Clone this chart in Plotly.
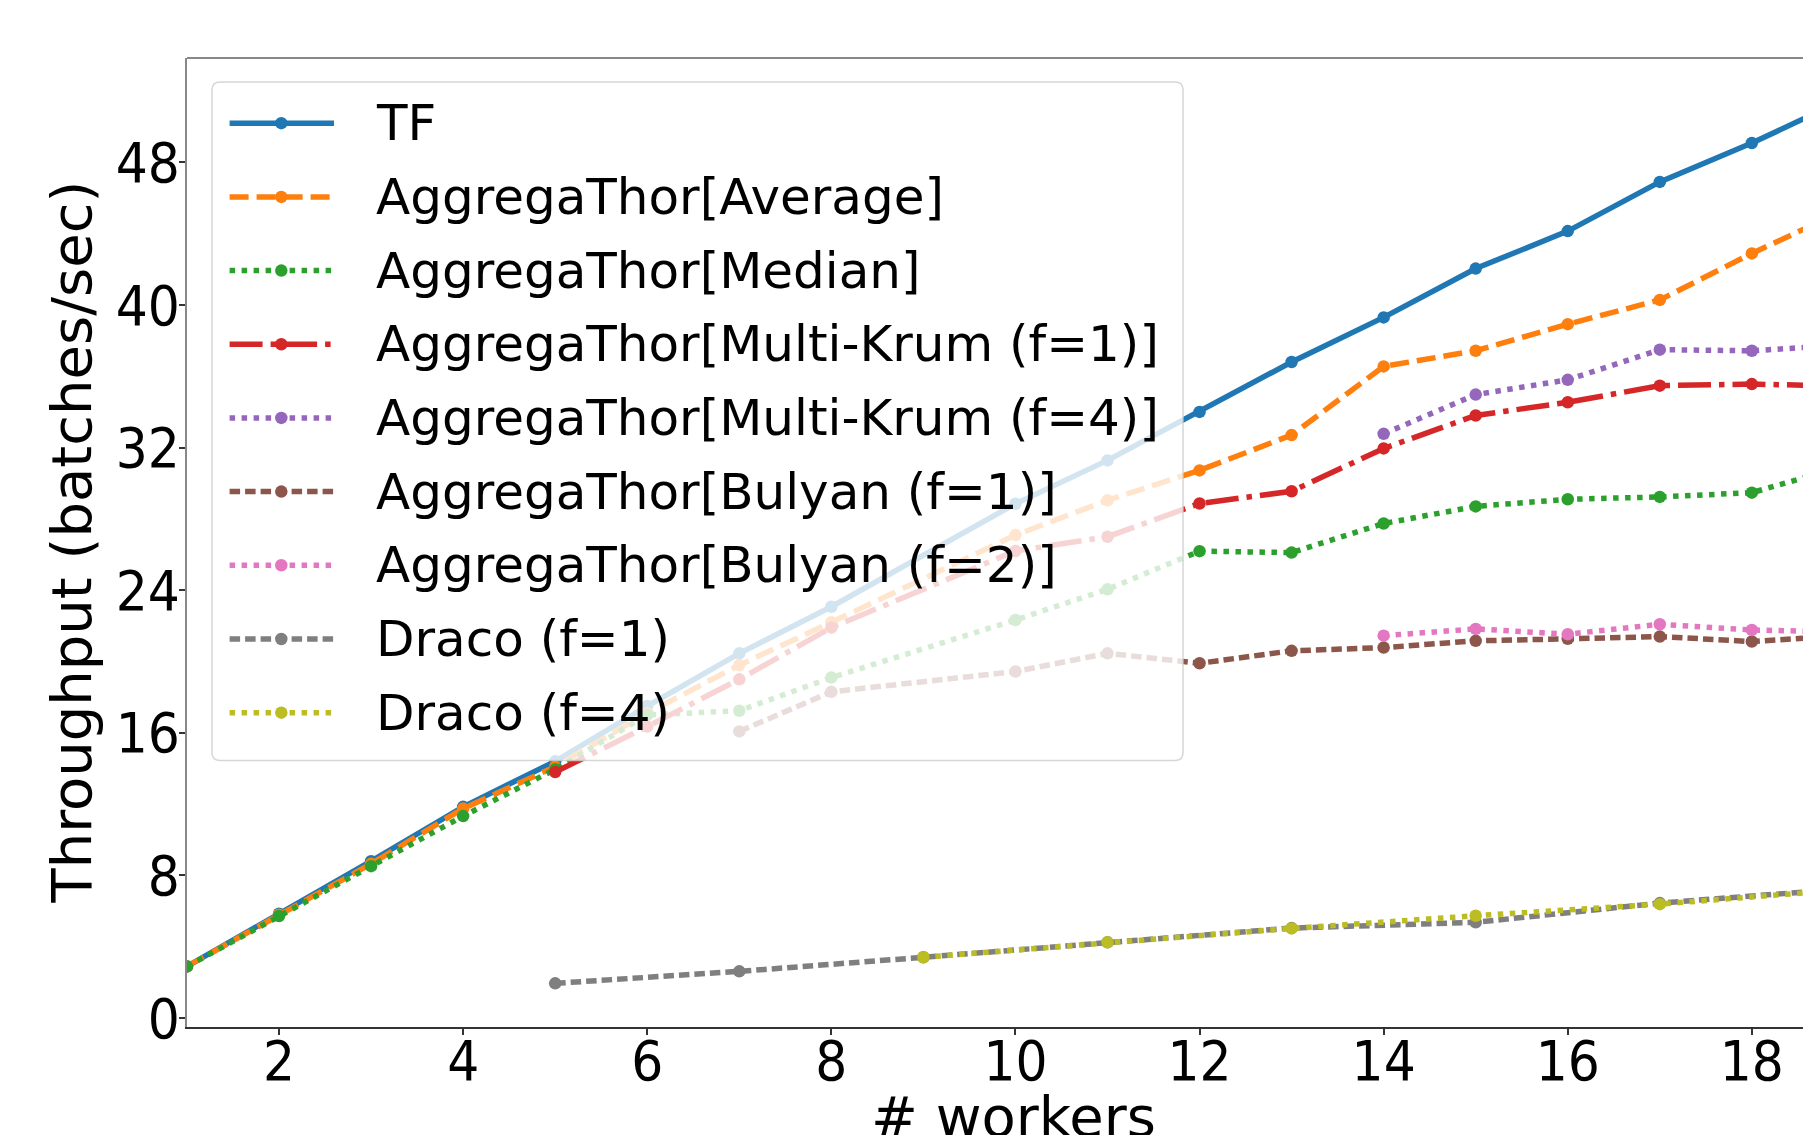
import plotly.graph_objects as go

# ---------------- data ----------------
workers_tf = [1, 2, 3, 4, 5, 6, 7, 8, 10, 11, 12, 13, 14, 15, 16, 17, 18, 19]
tput_tf = [2.9, 5.85, 8.8, 11.85, 14.4, 17.5, 20.46, 23.07, 28.85, 31.28, 34.0, 36.8,
           39.3, 42.04, 44.14, 46.9, 49.08, 51.5]

workers_avg = [1, 2, 3, 4, 5, 6, 7, 8, 10, 11, 12, 13, 14, 15, 16, 17, 18, 19]
tput_avg = [2.9, 5.8, 8.65, 11.75, 14.1, 17.1, 19.8, 22.2, 27.09, 29.04, 30.72, 32.7,
            36.55, 37.43, 38.92, 40.28, 42.89, 45.3]

workers_med = [1, 2, 3, 4, 5, 6, 7, 8, 10, 11, 12, 13, 14, 15, 16, 17, 18, 19]
tput_med = [2.9, 5.72, 8.52, 11.33, 13.95, 17.0, 17.24, 19.1, 22.33, 24.05, 26.19, 26.11,
            27.74, 28.7, 29.1, 29.23, 29.47, 30.95]

workers_mk1 = [5, 6, 7, 8, 10, 11, 12, 13, 14, 15, 16, 17, 18, 19]
tput_mk1 = [13.8, 16.35, 19.0, 21.9, 26.2, 27.0, 28.86, 29.55, 31.95, 33.8, 34.54, 35.47,
            35.56, 35.45]

workers_mk4 = [14, 15, 16, 17, 18, 19]
tput_mk4 = [32.77, 34.97, 35.8, 37.49, 37.43, 37.75]

workers_bul1 = [7, 8, 10, 11, 12, 13, 14, 15, 16, 17, 18, 19]
tput_bul1 = [16.08, 18.3, 19.44, 20.46, 19.9, 20.6, 20.78, 21.16, 21.27, 21.4, 21.12, 21.45]

workers_bul2 = [14, 15, 16, 17, 18, 19]
tput_bul2 = [21.45, 21.83, 21.53, 22.09, 21.77, 21.65]

workers_dr1 = [5, 7, 9, 11, 13, 15, 17, 19]
tput_dr1 = [1.95, 2.62, 3.41, 4.25, 5.05, 5.37, 6.45, 7.24]

workers_dr4 = [9, 11, 13, 15, 17, 19]
tput_dr4 = [3.41, 4.25, 5.03, 5.74, 6.39, 7.2]

series_names = ["TF", "AggregaThor[Average]", "AggregaThor[Median]",
                "AggregaThor[Multi-Krum (f=1)]", "AggregaThor[Multi-Krum (f=4)]",
                "AggregaThor[Bulyan (f=1)]", "AggregaThor[Bulyan (f=2)]",
                "Draco (f=1)", "Draco (f=4)"]

x_ticks = [2, 4, 6, 8, 10, 12, 14, 16, 18]
y_ticks = [0, 8, 16, 24, 32, 40, 48]

# ---------------- styles ----------------
LW = 5.5
DASH = "19px,8px"
DOT = "5.5px,6.5px"
DASHDOT = "33px,8px,5.5px,8px"
SHORTDASH = "10.5px,5px"
MSIZE = 12.5

styles = [
    ("#1f77b4", "solid"),
    ("#ff7f0e", DASH),
    ("#2ca02c", DOT),
    ("#d62728", DASHDOT),
    ("#9467bd", DOT),
    ("#8c564b", SHORTDASH),
    ("#e377c2", DOT),
    ("#7f7f7f", SHORTDASH),
    ("#bcbd22", DOT),
]

data = [
    (workers_tf, tput_tf), (workers_avg, tput_avg), (workers_med, tput_med),
    (workers_mk1, tput_mk1), (workers_mk4, tput_mk4), (workers_bul1, tput_bul1),
    (workers_bul2, tput_bul2), (workers_dr1, tput_dr1), (workers_dr4, tput_dr4),
]

# page body has an 8px margin: screen = figure + OFF
OFF = 8
W, H = 1811, 1135
ML, MR, MT, MB = 179, 0, 50, 116
PW = W - ML - MR
PH = H - MT - MB
X_PER_UNIT = 92.05
X_MAX = 1 + PW / X_PER_UNIT


def X(sx):
    return (sx - OFF - ML) / PW


def Y(sy):
    return (H - MB - (sy - OFF)) / PH


fig = go.Figure()
for (xs, ys), name, (col, dash) in zip(data, series_names, styles):
    fig.add_trace(go.Scatter(
        x=xs, y=ys, name=name, mode="lines+markers",
        line=dict(color=col, width=LW, dash=dash),
        marker=dict(color=col, size=MSIZE, line=dict(width=0)),
        showlegend=False,
    ))

TXT = "DejaVu Sans"
TICKFONT = dict(family="DejaVu Sans Condensed, DejaVu Sans", size=56, color="black")

fig.update_xaxes(
    range=[1, X_MAX], tickvals=x_ticks, ticktext=[str(v) for v in x_ticks],
    showgrid=False, zeroline=False, showline=True, linecolor="#333333", linewidth=2,
    ticks="outside", ticklen=6, tickwidth=1.5, tickcolor="#333333",
    tickfont=TICKFONT, ticklabelstandoff=-22,
)
fig.update_yaxes(
    range=[-0.5, 53.85], tickvals=y_ticks, ticktext=[str(v) for v in y_ticks],
    showgrid=False, zeroline=False, showline=True, linecolor="#888888", linewidth=2,
    ticks="outside", ticklen=6, tickwidth=1.5, tickcolor="#333333",
    tickfont=TICKFONT, ticklabelstandoff=-12,
)

shapes = []
# top spine
shapes.append(dict(type="line", xref="paper", yref="paper", x0=0, x1=1, y0=1, y1=1,
                   line=dict(color="#888888", width=2), layer="above"))

# legend frame (rounded, semi-transparent) -- screen coordinates
bx0, by0, bx1, by1, r = 212, 82, 1183, 760.5, 8
path = (f"M {X(bx0 + r)},{Y(by0)} L {X(bx1 - r)},{Y(by0)} "
        f"Q {X(bx1)},{Y(by0)} {X(bx1)},{Y(by0 + r)} "
        f"L {X(bx1)},{Y(by1 - r)} Q {X(bx1)},{Y(by1)} {X(bx1 - r)},{Y(by1)} "
        f"L {X(bx0 + r)},{Y(by1)} Q {X(bx0)},{Y(by1)} {X(bx0)},{Y(by1 - r)} "
        f"L {X(bx0)},{Y(by0 + r)} Q {X(bx0)},{Y(by0)} {X(bx0 + r)},{Y(by0)} Z")
shapes.append(dict(type="path", xref="paper", yref="paper", path=path,
                   fillcolor="rgba(255,255,255,0.8)",
                   line=dict(color="rgba(204,204,204,0.8)", width=1.5), layer="above"))

annotations = []
row0, drow = 123.2, 73.68
lx0, lx1, mx, tx = 229.6, 334.0, 281.3, 373.5
mr = MSIZE / 2
for i, (name, (col, dash)) in enumerate(zip(series_names, styles)):
    cy = row0 + i * drow
    shapes.append(dict(type="line", xref="paper", yref="paper",
                       x0=X(lx0), x1=X(lx1), y0=Y(cy), y1=Y(cy),
                       line=dict(color=col, width=LW, dash=dash), layer="above"))
    shapes.append(dict(type="circle", xref="paper", yref="paper",
                       x0=X(mx - mr), x1=X(mx + mr), y0=Y(cy + mr), y1=Y(cy - mr),
                       fillcolor=col, line=dict(width=0), layer="above"))
    annotations.append(dict(text=name, xref="paper", yref="paper", x=X(tx), y=Y(cy),
                            xanchor="left", yanchor="middle", showarrow=False,
                            font=dict(family=TXT, size=50, color="black")))

# axis titles
annotations.append(dict(text="# workers", xref="paper", yref="paper",
                        x=X(1013), y=Y(1116), xanchor="center", yanchor="middle",
                        showarrow=False, font=dict(family=TXT, size=56, color="black")))
annotations.append(dict(text="Throughput (batches/sec)", xref="paper", yref="paper",
                        x=X(71), y=Y(542.5), xanchor="center", yanchor="middle",
                        textangle=-90, showarrow=False,
                        font=dict(family=TXT, size=56, color="black")))

fig.update_layout(
    width=W, height=H,
    margin=dict(l=ML, r=MR, t=MT, b=MB, pad=0),
    paper_bgcolor="white", plot_bgcolor="white",
    shapes=shapes, annotations=annotations,
    showlegend=False,
)

fig.write_html("out.html")
